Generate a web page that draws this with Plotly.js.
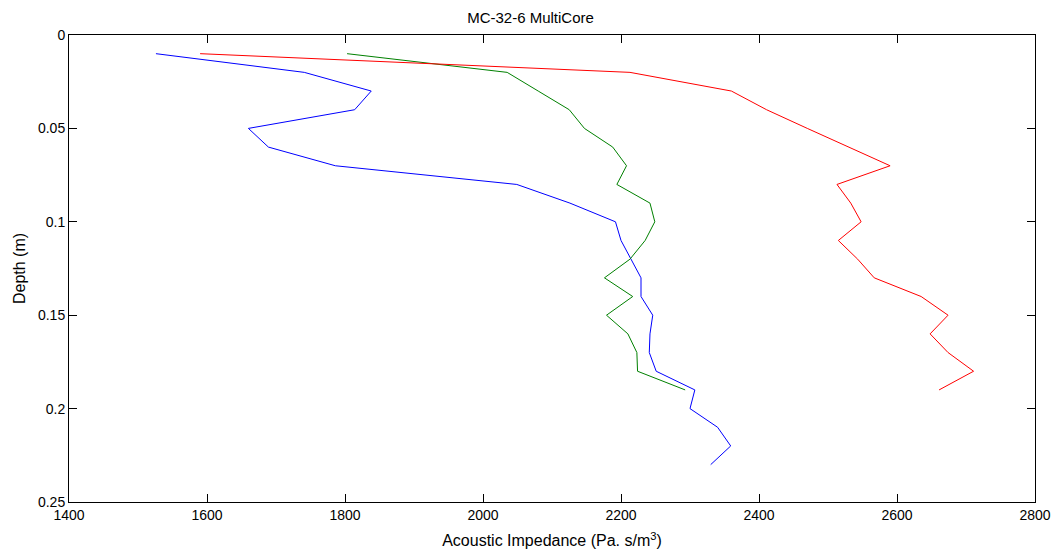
<!DOCTYPE html>
<html>
<head>
<meta charset="utf-8">
<script src="https://cdn.plot.ly/plotly-3.0.1.min.js"></script>
<style>html,body{margin:0;padding:0;background:#fff;}#chart{width:1061px;height:557px;}</style>
</head>
<body>
<div id="chart"></div>
<script>
// Depths (m)
const depthBlue = [0.01,0.02,0.03,0.04,0.05,0.06,0.07,0.08,0.09,0.10,0.11,0.12,0.13,0.14,0.15,0.16,0.17,0.18,0.19,0.20,0.21,0.22,0.23];
const depthGreen = [0.01,0.02,0.03,0.04,0.05,0.06,0.07,0.08,0.09,0.10,0.11,0.12,0.13,0.14,0.15,0.16,0.17,0.18,0.19];
const depthRed = [0.01,0.02,0.03,0.04,0.05,0.06,0.07,0.08,0.09,0.10,0.11,0.12,0.13,0.14,0.15,0.16,0.17,0.18,0.19];
// Acoustic impedance values
const impBlue = [1526,1741,1838,1814,1660,1689,1786,2049,2126,2192,2200,2214,2229,2229,2246,2242,2241,2251,2307,2300,2340,2359,2330];
const impGreen = [1803,2035,2080,2125,2147,2188,2208,2194,2242,2249,2235,2213,2176,2217,2179,2210,2223,2224,2293];
const impRed = [1590,2213,2360,2411,2470,2530,2590,2513,2533,2548,2515,2543,2567,2635,2674,2648,2674,2711,2661];

const titleText = "MC-32-6 MultiCore";
const xTitle = "Acoustic Impedance (Pa. s/m<sup>3</sup>)";
const yTitle = "Depth (m)";
const xTicks = [1400,1600,1800,2000,2200,2400,2600,2800];
const yTicks = [0,0.05,0.1,0.15,0.2,0.25];
const yTickText = ["0","0.05","0.1","0.15","0.2","0.25"];

const fam = "Liberation Sans, Arial, sans-serif";

const traces = [
  {x: impBlue, y: depthBlue, mode: "lines", line: {color: "#0000ff", width: 1}},
  {x: impGreen, y: depthGreen, mode: "lines", line: {color: "#008000", width: 1}},
  {x: impRed, y: depthRed, mode: "lines", line: {color: "#ff0000", width: 1}}
];

const layout = {
  width: 1061, height: 557,
  margin: {l: 69, r: 26, t: 35, b: 55},
  paper_bgcolor: "#fff", plot_bgcolor: "#fff",
  showlegend: false,
  font: {family: fam, size: 14, color: "#000"},
  title: {text: titleText, x: 0.5, xanchor: "center", y: 1, yanchor: "top", pad: {t: 12}, font: {family: fam, size: 15, color: "#000"}},
  xaxis: {
    range: [1400, 2800], tickvals: xTicks, ticktext: xTicks.map(String),
    showgrid: false, zeroline: false, showline: true, linecolor: "#000", linewidth: 1,
    mirror: "ticks", ticks: "inside", ticklen: 8, tickcolor: "#000",
    tickfont: {family: fam, size: 14, color: "#000"},
    title: {text: xTitle, standoff: 13, font: {family: fam, size: 16, color: "#000"}},
    automargin: false
  },
  yaxis: {
    range: [0.25, 0], tickvals: yTicks, ticktext: yTickText,
    showgrid: false, zeroline: false, showline: true, linecolor: "#000", linewidth: 1,
    mirror: "ticks", ticks: "inside", ticklen: 8, tickcolor: "#000",
    tickfont: {family: fam, size: 14, color: "#000"},
    title: {text: yTitle, standoff: 8, font: {family: fam, size: 16, color: "#000"}},
    automargin: false
  }
};

Plotly.newPlot("chart", traces, layout, {displayModeBar: false, staticPlot: true});
</script>
</body>
</html>
